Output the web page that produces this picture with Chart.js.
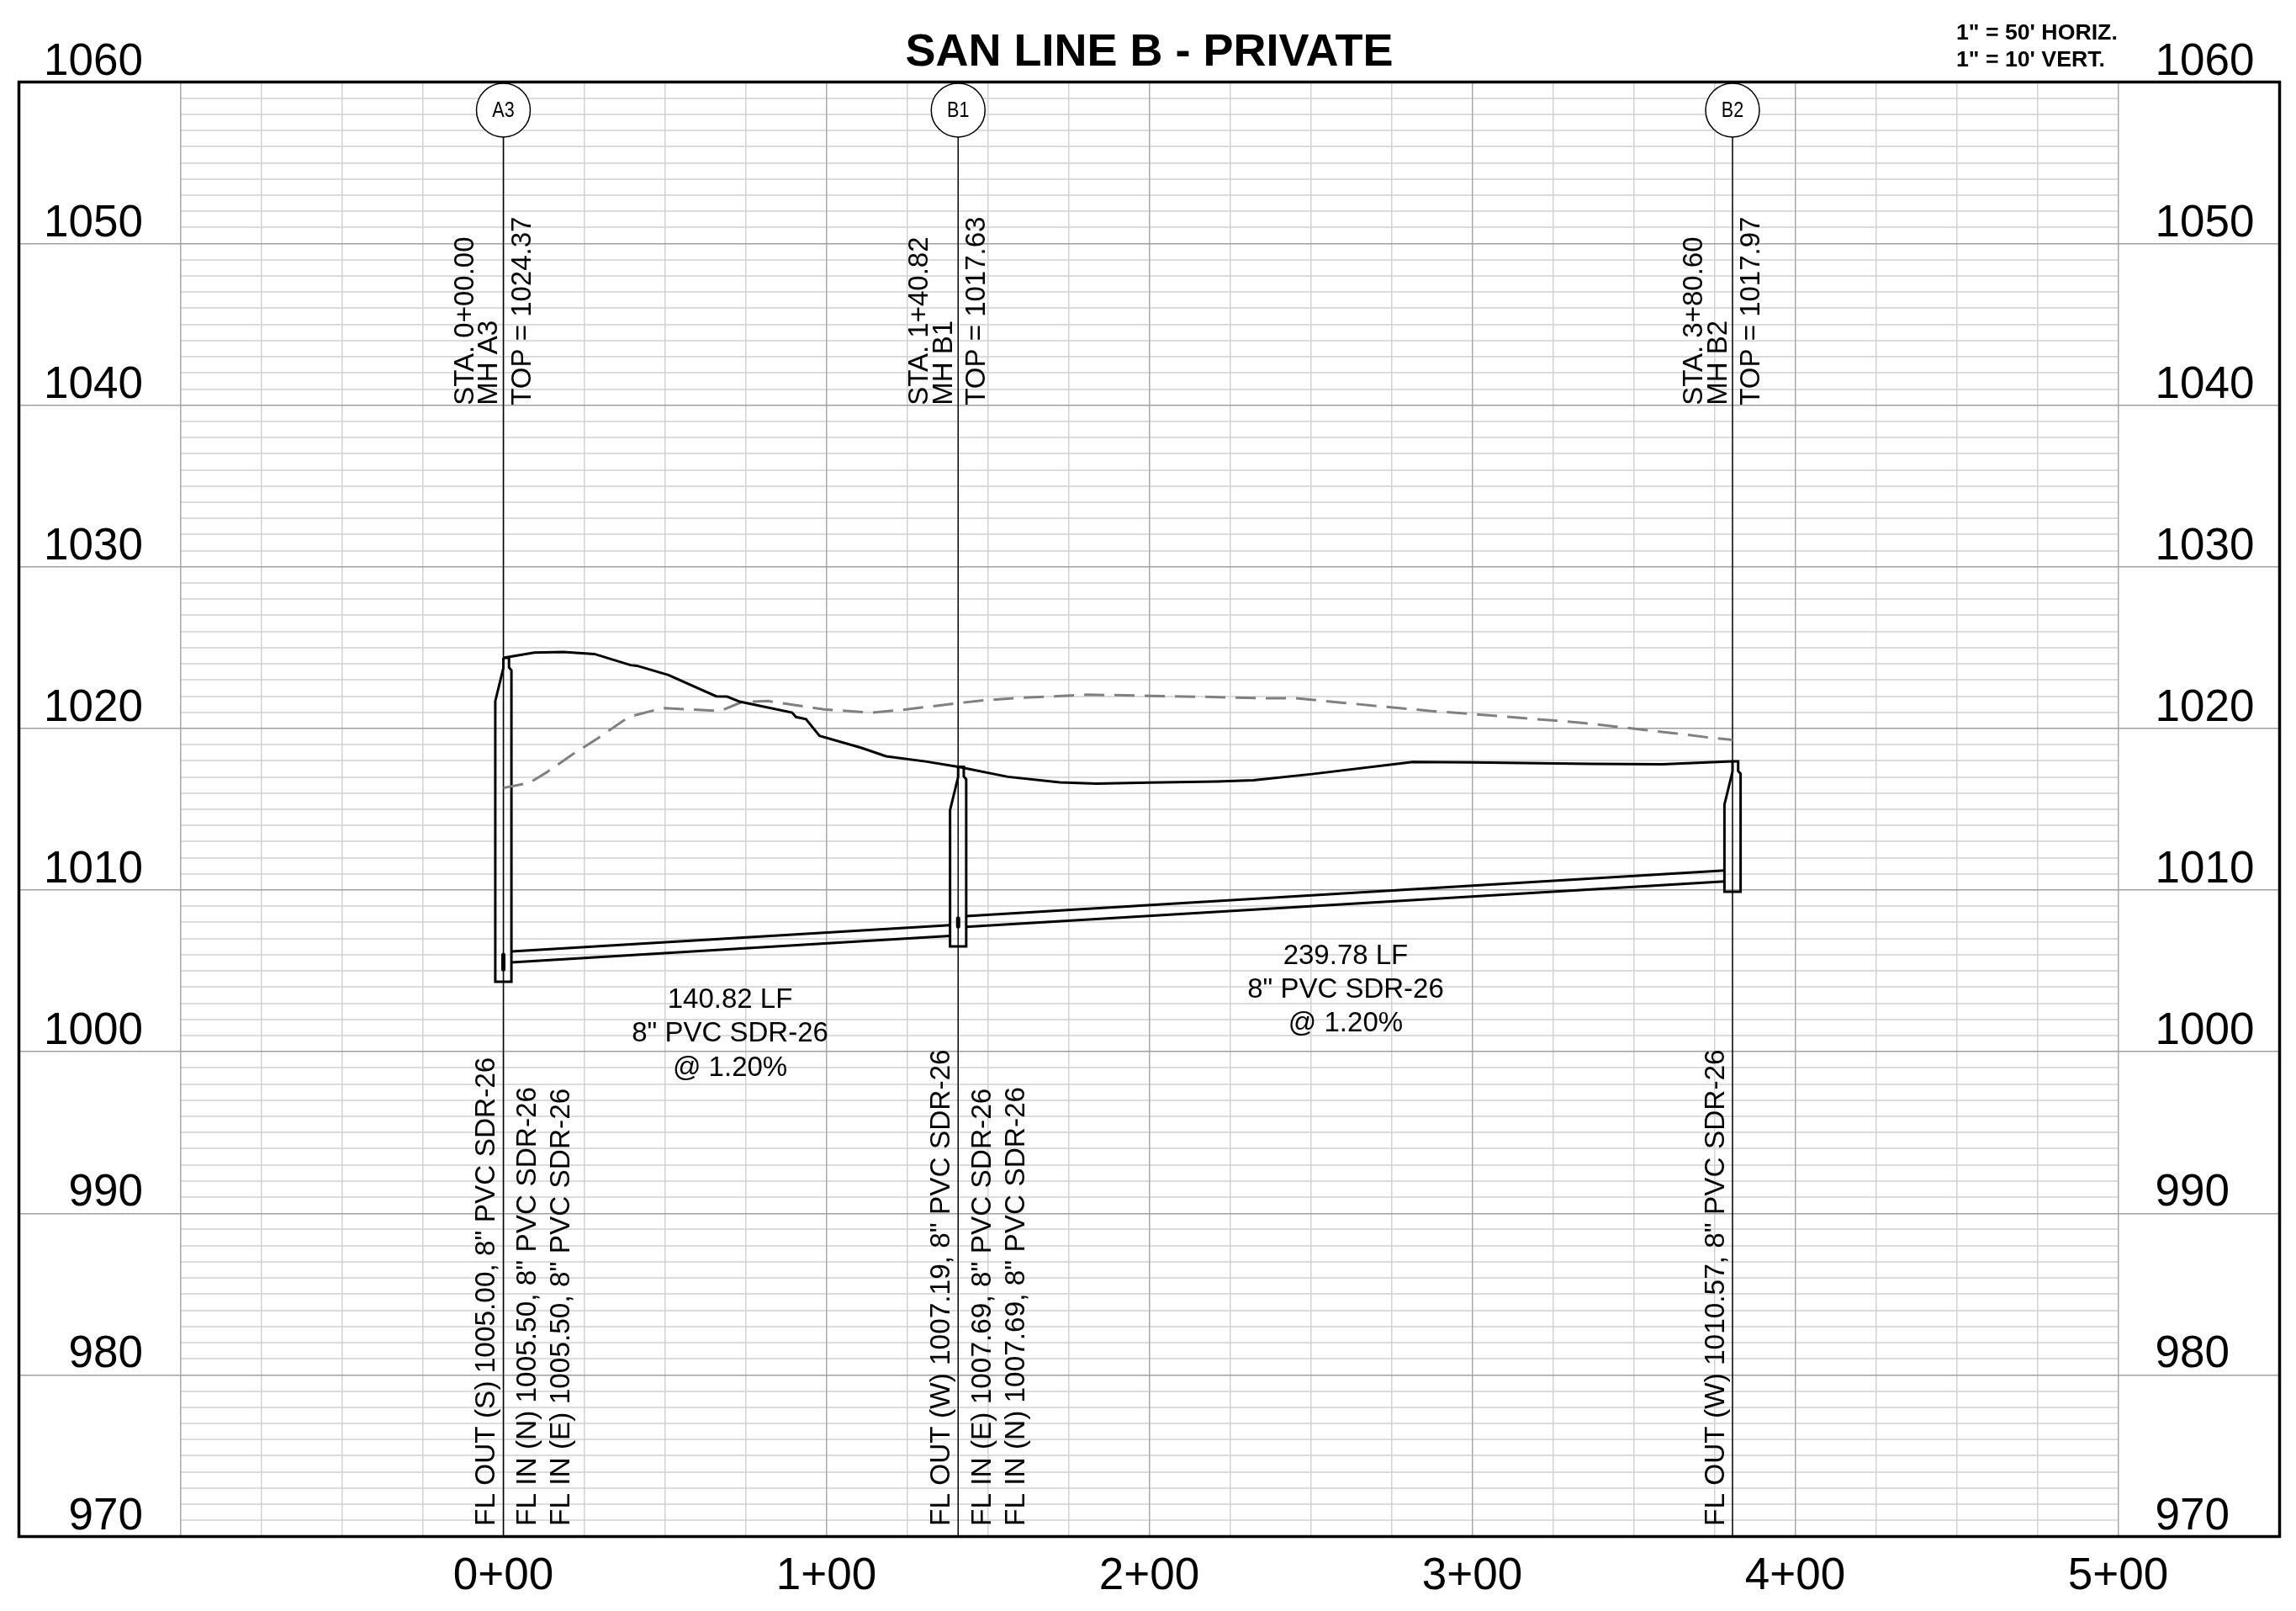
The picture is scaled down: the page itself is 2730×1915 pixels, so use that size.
<!DOCTYPE html>
<html>
<head>
<meta charset="utf-8">
<title>SAN LINE B - PRIVATE</title>
<script src="https://cdn.jsdelivr.net/npm/chart.js@4"></script>
<style>
    html, body { margin: 0; background: #fff; }
    canvas { display: block; }
</style>
</head>
<body>
<canvas id="profile" width="2730" height="1915"></canvas>
<script>
// axis ticks
const elevationTicks = [970, 980, 990, 1000, 1010, 1020, 1030, 1040, 1050, 1060];
const stationMajor = [0, 100, 200, 300, 400, 500];
const stationLabels = ["0+00", "1+00", "2+00", "3+00", "4+00", "5+00"];

// existing ground (dashed) and finished grade (solid), station / elevation
const existingStations = [0, 8, 13.3, 21.4, 29.6, 37.1, 40, 45.6, 49.9, 58.6, 67.3, 73.5, 76.6, 81.9, 99.3, 113.8, 123.1, 140.9, 148, 160.5, 175.7, 181, 200, 216.5, 235.6, 245.2, 260.1, 278.9, 288.1, 306.8, 334.6, 353.5, 362.8, 372.1, 380.6];
const existingElev = [1016.32, 1016.63, 1017.27, 1018.4, 1019.44, 1020.48, 1020.78, 1021.07, 1021.26, 1021.17, 1021.09, 1021.61, 1021.66, 1021.7, 1021.18, 1020.98, 1021.14, 1021.57, 1021.73, 1021.9, 1022.04, 1022.09, 1022.02, 1021.96, 1021.87, 1021.87, 1021.59, 1021.23, 1021.07, 1020.79, 1020.34, 1019.91, 1019.7, 1019.47, 1019.3];

const gradeStations = [0, 9.55, 18.5, 28.2, 39.4, 41.4, 51.1, 65.9, 69.3, 73.2, 89.4, 90.6, 93.7, 97.9, 110.9, 118.5, 130.7, 140.82, 156.2, 172.3, 183.6, 200, 220.9, 232.2, 250.4, 281.6, 299.9, 336.3, 358.9, 380.6];
const gradeElev = [1024.37, 1024.7, 1024.73, 1024.61, 1023.92, 1023.88, 1023.31, 1021.99, 1021.97, 1021.66, 1020.98, 1020.71, 1020.58, 1019.54, 1018.8, 1018.28, 1017.96, 1017.63, 1017.01, 1016.66, 1016.59, 1016.65, 1016.72, 1016.79, 1017.18, 1017.93, 1017.9, 1017.81, 1017.79, 1017.97];

// pipe runs
const pipeAStations = [2.5, 138.3];
const pipeATop = [1006.2, 1007.83];
const pipeABottom = [1005.53, 1007.16];
const pipeBStations = [143.3, 378.1];
const pipeBTop = [1008.39, 1011.21];
const pipeBBottom = [1007.72, 1010.54];

// manhole outlines
const mhA3X = [0, 1.75, 1.75, 2.5, 2.5, -2.5, -2.5, 0, 0];
const mhA3Y = [1024.37, 1024.37, 1023.77, 1023.6, 1004.33, 1004.33, 1021.69, 1023.74, 1024.37];
const mhB1X = [140.82, 142.57, 142.57, 143.32, 143.32, 138.32, 138.32, 140.82, 140.82];
const mhB1Y = [1017.63, 1017.63, 1017.03, 1016.86, 1006.52, 1006.52, 1014.95, 1017.0, 1017.63];
const mhB2X = [380.6, 382.35, 382.35, 383.1, 383.1, 378.1, 378.1, 380.6, 380.6];
const mhB2Y = [1017.97, 1017.97, 1017.37, 1017.2, 1009.9, 1009.9, 1015.29, 1017.34, 1017.97];

// pipe openings seen inside the manholes
const openA3Y = [1006.0, 1005.1];
const openB1Y = [1008.25, 1007.75];

// manhole stations
const mhNames = ["A3", "B1", "B2"];
const mhStations = [0, 140.82, 380.6];
const mhTopOfLine = [1056.6, 1056.6, 1056.6];
const mhBubble = [1058.26, 1058.26, 1058.26];
const mhFloor = [970, 970, 970];

const staLabels = ["STA. 0+00.00", "STA. 1+40.82", "STA. 3+80.60"];
const nameLabels = ["MH A3", "MH B1", "MH B2"];
const topLabels = ["TOP = 1024.37", "TOP = 1017.63", "TOP = 1017.97"];
const flOutLabels = ['FL OUT (S) 1005.00, 8" PVC SDR-26', 'FL OUT (W) 1007.19, 8" PVC SDR-26', 'FL OUT (W) 1010.57, 8" PVC SDR-26'];
const flInOneLabels = ['FL IN (N) 1005.50, 8" PVC SDR-26', 'FL IN (E) 1007.69, 8" PVC SDR-26', ""];
const flInTwoLabels = ['FL IN (E) 1005.50, 8" PVC SDR-26', 'FL IN (N) 1007.69, 8" PVC SDR-26', ""];

const pipeNotes = [
    { station: 70.2, elevation: 1002.7, lines: ["140.82 LF", '8" PVC SDR-26', "@ 1.20%"] },
    { station: 260.8, elevation: 1005.43, lines: ["239.78 LF", '8" PVC SDR-26', "@ 1.20%"] }
];

const FONT = '"Liberation Sans"';

function pairs(xs, ys) {
    return xs.map((x, i) => ({ x: x, y: ys[i] }));
}

function blackLine(xs, ys, width) {
    return {
        data: pairs(xs, ys),
        showLine: true,
        borderColor: "#000",
        borderWidth: width || 3,
        pointRadius: 0,
        borderJoinStyle: "miter"
    };
}

function upText(ctx, text, px, py) {
    ctx.save();
    ctx.translate(px, py);
    ctx.rotate(-Math.PI / 2);
    ctx.fillText(text, 0, 0);
    ctx.restore();
}

const minorGrid = {
    id: "minorGrid",
    beforeDraw(chart) {
        const ctx = chart.ctx, xs = chart.scales.x, ys = chart.scales.y;
        ctx.save();
        ctx.strokeStyle = "#dcdcdc";
        ctx.lineWidth = 2;
        ctx.beginPath();
        for (let e = ys.min + 1; e < ys.max; e++) {
            if (e % 10 === 0) continue;
            const py = Math.round(ys.getPixelForValue(e));
            ctx.moveTo(xs.getPixelForValue(-100), py);
            ctx.lineTo(xs.getPixelForValue(500), py);
        }
        ctx.stroke();
        ctx.restore();
    }
};

const sheetText = {
    id: "sheetText",
    afterDatasetsDraw(chart) {
        const ctx = chart.ctx, xs = chart.scales.x, ys = chart.scales.y, area = chart.chartArea;
        ctx.save();

        // frame
        ctx.strokeStyle = "#000";
        ctx.lineWidth = 3.5;
        ctx.strokeRect(area.left, area.top, area.right - area.left, area.bottom - area.top);

        ctx.fillStyle = "#000";
        ctx.textAlign = "left";
        ctx.textBaseline = "alphabetic";

        // rotated manhole callouts
        mhStations.forEach((st, i) => {
            const px = xs.getPixelForValue(st);
            const upper = ys.getPixelForValue(1040);
            const lower = ys.getPixelForValue(970.65);
            ctx.font = "33px " + FONT;
            upText(ctx, staLabels[i], px - 36, upper);
            upText(ctx, nameLabels[i], px - 7.5, upper);
            upText(ctx, topLabels[i], px + 32, upper);
            ctx.font = "33.4px " + FONT;
            upText(ctx, flOutLabels[i], px - 10.5, lower);
            upText(ctx, flInOneLabels[i], px + 38.5, lower);
            upText(ctx, flInTwoLabels[i], px + 78.5, lower);
        });

        // pipe notes
        ctx.font = "33px " + FONT;
        ctx.textAlign = "center";
        pipeNotes.forEach(note => {
            const px = xs.getPixelForValue(note.station);
            const py = ys.getPixelForValue(note.elevation);
            note.lines.forEach((line, i) => ctx.fillText(line, px, py + i * 40.2));
        });

        // bubble names, narrow lettering in the original
        ctx.font = "26px " + FONT;
        ctx.textBaseline = "middle";
        mhNames.forEach((name, i) => {
            ctx.save();
            ctx.translate(xs.getPixelForValue(mhStations[i]), ys.getPixelForValue(mhBubble[i]) + 1);
            ctx.scale(0.83, 1);
            ctx.fillText(name, 0, 0);
            ctx.restore();
        });

        // scale note
        ctx.font = "bold 26.7px " + FONT;
        ctx.textAlign = "left";
        ctx.textBaseline = "alphabetic";
        ctx.fillText("1\" = 50' HORIZ.", 2326, 47);
        ctx.fillText("1\" = 10' VERT.", 2326, 79);

        ctx.restore();
    }
};

const stationLines = mhStations.map((st, i) => blackLine([st, st], [mhFloor[i], mhTopOfLine[i]], 1.5));

new Chart(document.getElementById("profile"), {
    type: "scatter",
    data: {
        datasets: [
            {
                data: pairs(mhStations, mhBubble),
                showLine: false,
                pointStyle: "circle",
                pointRadius: 32,
                pointBackgroundColor: "#fff",
                pointBorderColor: "#000",
                pointBorderWidth: 1.5,
                clip: false
            },
            blackLine(gradeStations, gradeElev),
            Object.assign(blackLine(existingStations, existingElev), {
                borderColor: "#808080",
                borderDash: [24, 12]
            }),
            blackLine(pipeAStations, pipeATop),
            blackLine(pipeAStations, pipeABottom),
            blackLine(pipeBStations, pipeBTop),
            blackLine(pipeBStations, pipeBBottom),
            blackLine(mhA3X, mhA3Y),
            blackLine(mhB1X, mhB1Y),
            blackLine(mhB2X, mhB2Y),
            Object.assign(blackLine([mhStations[0], mhStations[0]], openA3Y, 5), { borderCapStyle: "round" }),
            Object.assign(blackLine([mhStations[1], mhStations[1]], openB1Y, 5), { borderCapStyle: "round" }),
            ...stationLines
        ]
    },
    options: {
        responsive: false,
        animation: false,
        devicePixelRatio: 1,
        layout: {
            // the bubble points would otherwise pull the plot area in
            autoPadding: false,
            padding: { left: 22.5, right: 19.5, top: 0, bottom: 0 }
        },
        plugins: {
            legend: { display: false },
            tooltip: { enabled: false },
            title: {
                display: true,
                text: "SAN LINE B - PRIVATE",
                color: "#000",
                font: { family: FONT, size: 54, weight: "bold", lineHeight: 1 },
                padding: { top: 36, bottom: 7.5 }
            }
        },
        scales: {
            x: {
                type: "linear",
                min: -150,
                max: 550,
                afterFit(scale) {
                    scale.height = 88.5;
                    scale.paddingLeft = 0;
                    scale.paddingRight = 0;
                },
                afterBuildTicks(scale) {
                    const ticks = [];
                    for (let v = -100; v <= 500; v += 25) ticks.push({ value: v });
                    scale.ticks = ticks;
                },
                border: { display: false },
                grid: {
                    drawTicks: false,
                    color: c => c.tick.value % 100 === 0 ? "#a8a8a8" : "#d2d2d2",
                    lineWidth: 1.5
                },
                ticks: {
                    autoSkip: false,
                    maxRotation: 0,
                    padding: 16.5,
                    color: "#000",
                    font: { family: FONT, size: 53 },
                    callback: v => {
                        const i = stationMajor.indexOf(v);
                        return i < 0 ? "" : stationLabels[i];
                    }
                }
            },
            y: {
                type: "linear",
                position: "left",
                min: 970,
                max: 1060,
                afterFit(scale) {
                    scale.width = 0;
                    scale.paddingTop = 0;
                    scale.paddingBottom = 0;
                },
                afterBuildTicks(scale) { scale.ticks = elevationTicks.map(v => ({ value: v })); },
                border: { display: false },
                grid: {
                    drawTicks: false,
                    color: "#a0a0a0",
                    lineWidth: 1.5
                },
                ticks: {
                    mirror: true,
                    crossAlign: "far",
                    padding: 29.5,
                    labelOffset: -23.5,
                    autoSkip: false,
                    color: "#000",
                    font: { family: FONT, size: 53 },
                    callback: v => String(v)
                }
            },
            y2: {
                type: "linear",
                position: "right",
                min: 970,
                max: 1060,
                afterFit(scale) {
                    scale.width = 0;
                    scale.paddingTop = 0;
                    scale.paddingBottom = 0;
                },
                afterBuildTicks(scale) { scale.ticks = elevationTicks.map(v => ({ value: v })); },
                border: { display: false },
                grid: { display: false, drawTicks: false },
                ticks: {
                    mirror: true,
                    crossAlign: "far",
                    // on a mirrored right axis the padding adds to the x, so it has to be negative
                    padding: -30,
                    labelOffset: -23.5,
                    autoSkip: false,
                    color: "#000",
                    font: { family: FONT, size: 53 },
                    callback: v => String(v)
                }
            }
        }
    },
    plugins: [minorGrid, sheetText]
});
</script>
</body>
</html>
